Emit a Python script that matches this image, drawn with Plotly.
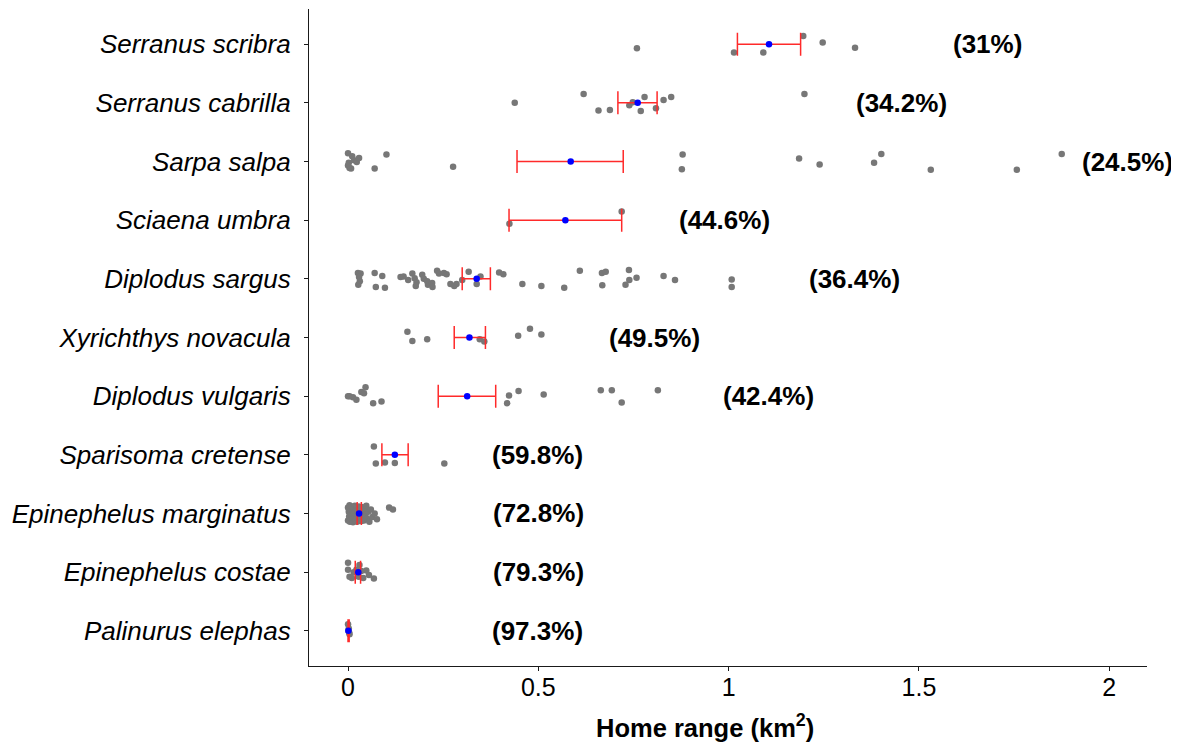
import plotly.graph_objects as go

# Species, bottom to top
species = ["Palinurus elephas", "Epinephelus costae", "Epinephelus marginatus",
           "Sparisoma cretense", "Diplodus vulgaris", "Xyrichthys novacula",
           "Diplodus sargus", "Sciaena umbra", "Sarpa salpa",
           "Serranus cabrilla", "Serranus scribra"]

# Individual home ranges (km2), with vertical jitter (row units)
pal_x = [0.000, 0.002, 0.004, 0.001, 0.003]
pal_j = [0.11, 0.04, -0.06, 0.00, -0.03]

eco_x = [0.000, 0.000, 0.004, 0.010, 0.015, 0.022, 0.028, 0.035, 0.040, 0.048, 0.055, 0.068, 0.030]
eco_j = [0.16, 0.04, -0.08, -0.10, 0.00, 0.04, -0.08, 0.02, -0.10, 0.03, -0.05, -0.11, 0.12]

ema_x = [0.000, 0.000, 0.002, 0.003, 0.004, 0.005, 0.006, 0.008, 0.009, 0.010,
         0.012, 0.013, 0.014, 0.015, 0.016, 0.018, 0.019, 0.020, 0.021, 0.022,
         0.024, 0.025, 0.026, 0.028, 0.030, 0.031, 0.033, 0.035, 0.036, 0.038,
         0.040, 0.042, 0.044, 0.046, 0.048, 0.050, 0.053, 0.056, 0.060, 0.064,
         0.070, 0.076, 0.108, 0.118]
ema_j = [0.10, -0.12, 0.03, -0.05, 0.14, -0.14, 0.07, -0.02, 0.12, -0.10,
         0.05, -0.15, 0.09, 0.00, -0.07, 0.13, -0.12, 0.04, -0.03, 0.10,
         -0.14, 0.06, -0.08, 0.12, -0.11, 0.02, 0.08, -0.13, 0.11, -0.05,
         0.04, -0.12, 0.09, -0.02, 0.13, -0.09, 0.03, -0.14, 0.07, -0.06,
         0.00, -0.10, 0.10, 0.07]

spa_x = [0.068, 0.073, 0.097, 0.123, 0.253]
spa_j = [0.14, -0.15, -0.13, -0.14, -0.15]

dvu_x = [0.000, 0.004, 0.013, 0.022, 0.035, 0.046, 0.042, 0.066, 0.088, 0.418,
         0.423, 0.448, 0.514, 0.664, 0.693, 0.719, 0.814]
dvu_j = [0.00, 0.00, -0.02, -0.06, 0.07, 0.15, 0.05, -0.12, -0.09, -0.12,
         0.01, 0.09, 0.03, 0.10, 0.10, -0.11, 0.10]

xno_x = [0.156, 0.169, 0.208, 0.346, 0.358, 0.447, 0.478, 0.508]
xno_j = [0.10, -0.06, -0.03, -0.03, -0.07, 0.03, 0.15, 0.05]

dsa_x = [0.026, 0.033, 0.029, 0.031, 0.027, 0.070, 0.090, 0.073, 0.097, 0.138,
         0.146, 0.158, 0.169, 0.175, 0.180, 0.178, 0.195, 0.199, 0.208, 0.210,
         0.221, 0.222, 0.234, 0.239, 0.252, 0.259, 0.269, 0.279, 0.285, 0.300,
         0.317, 0.338, 0.348, 0.397, 0.408, 0.458, 0.508, 0.568, 0.609, 0.667,
         0.677, 0.668, 0.738, 0.739, 0.758, 0.729, 0.829, 0.859, 1.008, 1.008]
dsa_j = [0.10, 0.09, 0.03, -0.04, -0.10, 0.10, 0.05, -0.14, -0.15, 0.03,
         0.04, -0.02, 0.09, 0.01, -0.06, -0.12, 0.07, 0.00, -0.04, -0.10,
         -0.07, -0.14, 0.14, 0.09, 0.10, 0.08, -0.09, -0.12, -0.09, -0.02,
         0.12, -0.09, 0.04, 0.11, 0.08, -0.09, -0.12, -0.15, 0.14, 0.10,
         0.12, -0.11, 0.15, -0.02, 0.02, -0.10, 0.05, -0.02, -0.01, -0.14]

sum_x = [0.424, 0.719]
sum_j = [-0.06, 0.15]

ssa_x = [0.000, 0.002, 0.004, 0.000, 0.016, 0.023, 0.029, 0.008, 0.011, 0.070,
         0.101, 0.276, 0.879, 0.877, 1.185, 1.239, 1.382, 1.401, 1.531, 1.757, 1.875]
ssa_j = [0.14, -0.02, -0.11, -0.07, 0.02, -0.01, 0.06, -0.12, 0.09, -0.12,
         0.12, -0.09, 0.12, -0.13, 0.05, -0.05, -0.02, 0.13, -0.14, -0.14, 0.13]

sca_x = [0.438, 0.619, 0.658, 0.688, 0.739, 0.748, 0.769, 0.779, 0.809, 0.829, 0.849, 1.199]
sca_j = [0.00, 0.15, -0.13, -0.12, -0.04, 0.01, -0.14, 0.10, -0.09, 0.05, 0.10, 0.15]

ssc_x = [0.759, 1.014, 1.091, 1.196, 1.247, 1.332]
ssc_j = [-0.07, -0.14, -0.14, 0.14, 0.03, -0.06]

points_x = [pal_x, eco_x, ema_x, spa_x, dvu_x, xno_x, dsa_x, sum_x, ssa_x, sca_x, ssc_x]
points_j = [pal_j, eco_j, ema_j, spa_j, dvu_j, xno_j, dsa_j, sum_j, ssa_j, sca_j, ssc_j]

# Mean and mean +/- SE (km2)
means = [0.001, 0.027, 0.029, 0.123, 0.313, 0.319, 0.338, 0.571, 0.585, 0.761, 1.106]
lows  = [0.000, 0.019, 0.024, 0.089, 0.237, 0.279, 0.300, 0.423, 0.444, 0.709, 1.023]
highs = [0.003, 0.033, 0.035, 0.158, 0.388, 0.361, 0.374, 0.719, 0.723, 0.812, 1.189]

# Percentage labels and their x positions
pct_text = ["(97.3%)", "(79.3%)", "(72.8%)", "(59.8%)", "(42.4%)", "(49.5%)",
            "(36.4%)", "(44.6%)", "(24.5%)", "(34.2%)", "(31%)"]
pct_x = [0.497, 0.501, 0.501, 0.498, 1.104, 0.804, 1.331, 0.990, 2.049, 1.453, 1.679]

x_ticks = [0, 0.5, 1, 1.5, 2]
x_ticktext = ["0", "0.5", "1", "1.5", "2"]

FONT = "Liberation Sans, Arial, sans-serif"

fig = go.Figure()

gx, gy = [], []
for i, (xs, js) in enumerate(zip(points_x, points_j)):
    for x, j in zip(xs, js):
        gx.append(x)
        gy.append(i + j)

fig.add_trace(go.Scatter(
    x=gx, y=gy, mode="markers",
    marker=dict(color="#777777", size=6.5, line=dict(width=0)),
    hoverinfo="x", showlegend=False))

rows = list(range(len(species)))
fig.add_trace(go.Scatter(
    x=means, y=rows, mode="markers",
    marker=dict(color="#0000FF", size=6.5, line=dict(width=0)),
    error_x=dict(type="data", symmetric=False,
                 array=[h - m for h, m in zip(highs, means)],
                 arrayminus=[m - l for m, l in zip(means, lows)],
                 color="#FF2A2A", thickness=1.5, width=11.5),
    showlegend=False))

for i, (t, px) in enumerate(zip(pct_text, pct_x)):
    fig.add_annotation(x=px, y=i, text="<b>" + t + "</b>", showarrow=False,
                       xanchor="center", yanchor="middle",
                       font=dict(family=FONT, size=26, color="black"))

fig.add_annotation(xref="paper", yref="paper", x=0.473, y=-0.092,
                   text="<b>Home range (km<sup>2</sup>)</b>", showarrow=False,
                   xanchor="center", yanchor="middle",
                   font=dict(family=FONT, size=25.5, color="black"))

# The page body has an 8px default margin: the figure is sized and offset for it
fig.update_layout(
    width=1171, height=736,
    margin=dict(l=301, r=32, t=1, b=78, pad=0),
    paper_bgcolor="white", plot_bgcolor="white",
    font=dict(family=FONT, color="black"),
    xaxis=dict(range=[-0.1025, 2.099], tickvals=x_ticks, ticktext=x_ticktext,
               showgrid=False, zeroline=False, showline=True, linecolor="#1a1a1a",
               linewidth=1.3, ticks="outside", ticklen=4, tickcolor="#1a1a1a",
               tickfont=dict(size=25, color="black"), ticklabelstandoff=-5),
    yaxis=dict(range=[-0.6, 10.6], tickvals=rows,
               ticktext=["<i>" + s + "</i>" for s in species],
               showgrid=False, zeroline=False, showline=True, linecolor="#1a1a1a",
               linewidth=1.3, ticks="outside", ticklen=4, tickcolor="#1a1a1a",
               tickfont=dict(size=26, color="black"), ticklabelstandoff=8),
)

fig.write_html("out.html")
